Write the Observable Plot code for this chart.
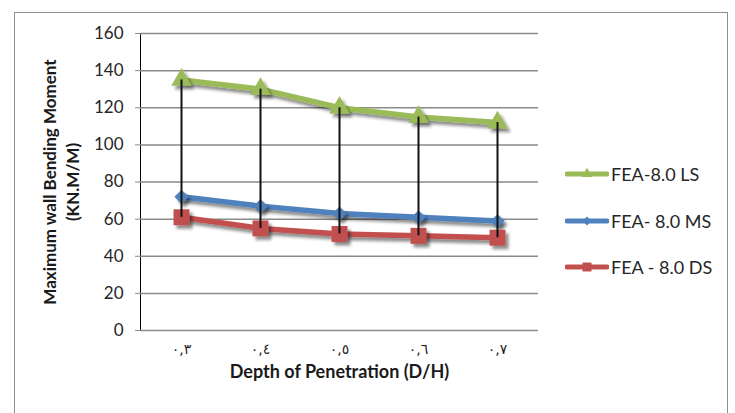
<!DOCTYPE html>
<html>
<head>
<meta charset="utf-8">
<script src="https://cdn.jsdelivr.net/npm/d3@7"></script>
<script src="https://cdn.jsdelivr.net/npm/@observablehq/plot@0.6"></script>
<style>
  html, body { margin: 0; padding: 0; background: #fff; }
  #wrap { position: relative; width: 735px; height: 413px; overflow: hidden; font-family: Lato, "Open Sans", sans-serif; }
  #border { position: absolute; left: 14px; top: 12px; width: 714px; height: 440px; border: 1px solid #8f8f8f; box-sizing: border-box; }
  #chart { position: absolute; left: 0; top: 0; }
  #chart svg [aria-label^="y-axis"] { color: #8a8a8a; }
  #chart svg [aria-label^="y-axis"] text { fill: #262626; }
  #legend { position: absolute; left: 565px; top: 0; }
  .item { position: absolute; left: 0; display: flex; align-items: center; white-space: nowrap; font-size: 18px; color: #262626; }
  .item svg { display: block; margin-right: 2px; }
</style>
</head>
<body>
<div id="wrap">
  <div id="border"></div>
  <div id="chart"></div>
  <div id="legend"></div>
</div>
<script>
// Depth ratio categories (Arabic-Indic numerals, as labelled on the axis)
const categories = ["٠,٣", "٠,٤", "٠,٥", "٠,٦", "٠,٧"];

// Series names and their maximum bending moments (kN.m/m)
const seriesNames = ["FEA-8.0 LS", "FEA- 8.0 MS", "FEA - 8.0 DS"];
const lsValues = [135, 130, 120, 115, 112];
const msValues = [72, 67, 63, 61, 59];
const dsValues = [61, 55, 52, 51, 50];

const yTicks = [0, 20, 40, 60, 80, 100, 120, 140, 160];

const seriesColors = ["#9bbb59", "#4f81bd", "#c0504d"];
const seriesSymbols = ["triangle", "diamond2", "square"];
const seriesRadii = [7.6, 6.4, 9];

const seriesValues = [lsValues, msValues, dsValues];
const rows = seriesNames.flatMap((name, i) =>
  categories.map((cat, j) => ({series: name, cat, value: seriesValues[i][j]}))
);
const ranges = categories.map((cat, j) => ({cat, lo: dsValues[j], hi: lsValues[j]}));

const lineMarks = seriesNames.map((name, i) =>
  Plot.line(rows.filter(d => d.series === name), {
    x: "cat", y: "value", stroke: seriesColors[i], strokeWidth: 5.5, strokeLinejoin: "round"
  })
);
const dotMarks = seriesNames.map((name, i) =>
  Plot.dot(rows.filter(d => d.series === name), {
    x: "cat", y: "value", symbol: seriesSymbols[i], r: seriesRadii[i], fill: seriesColors[i], stroke: "none"
  })
);

const chart = Plot.plot({
  width: 735,
  height: 413,
  marginLeft: 140,
  marginRight: 197,
  marginTop: 33,
  marginBottom: 83,
  style: {fontFamily: "Lato, 'Open Sans', sans-serif", fontSize: "17px", background: "transparent", overflow: "visible"},
  x: {type: "point", domain: categories, padding: 0.5, axis: null},
  y: {domain: [0, 160], ticks: yTicks, tickSize: 5, tickPadding: 12, tickFormat: d => String(d), line: true, label: null},
  marks: [
    Plot.ruleY(yTicks, {stroke: "#8a8a8a", strokeWidth: 1.5}),
    ...lineMarks,
    ...dotMarks,
    Plot.ruleX(ranges, {x: "cat", y1: "lo", y2: "hi", stroke: "#111", strokeWidth: 2}),
    Plot.text(categories, {x: d => d, frameAnchor: "bottom", dy: 23, fontSize: 14, fill: "#262626", fontFamily: "DejaVu Sans"}),
    Plot.text(["Depth of Penetration (D/H)"], {frameAnchor: "bottom", dy: 47, fontWeight: "bold", fontSize: 18, fill: "#1a1a1a"}),
    Plot.text(["Maximum wall Bending Moment\n(KN.M/M)"], {
      frameAnchor: "left", textAnchor: "middle", dx: -80, rotate: -90, lineHeight: 1.35,
      fontWeight: "bold", fontSize: 17, fill: "#1a1a1a"
    })
  ]
});

// Soft drop shadow under the series lines and markers
const svg = d3.select(chart);
const defs = svg.insert("defs", ":first-child");
defs.append("filter").attr("id", "soft-shadow").attr("x", "-20%").attr("y", "-20%").attr("width", "140%").attr("height", "160%")
  .append("feDropShadow").attr("dx", 3).attr("dy", 3.5).attr("stdDeviation", 1.8)
  .attr("flood-color", "#000").attr("flood-opacity", 0.45);
svg.selectAll('g[aria-label="line"], g[aria-label="dot"]').attr("filter", "url(#soft-shadow)");

document.getElementById("chart").appendChild(chart);

// Legend: line sample with the series marker, then the series name
const legend = d3.select("#legend");
const legendTops = [174, 221, 267];
seriesNames.forEach((name, i) => {
  const item = legend.append("div").attr("class", "item").style("top", (legendTops[i] - 12) + "px").style("height", "24px");
  const s = item.append("svg").attr("width", 44).attr("height", 24);
  s.append("line").attr("x1", 2).attr("x2", 42).attr("y1", 12).attr("y2", 12)
    .attr("stroke", seriesColors[i]).attr("stroke-width", 5).attr("stroke-linecap", "round");
  s.append("path").attr("transform", "translate(22,12)")
    .attr("d", d3.symbol(i === 0 ? d3.symbolTriangle : i === 1 ? d3.symbolDiamond2 : d3.symbolSquare, i === 2 ? 80 : 50)())
    .attr("fill", seriesColors[i]);
  item.append("span").text(name);
});
</script>
</body>
</html>
